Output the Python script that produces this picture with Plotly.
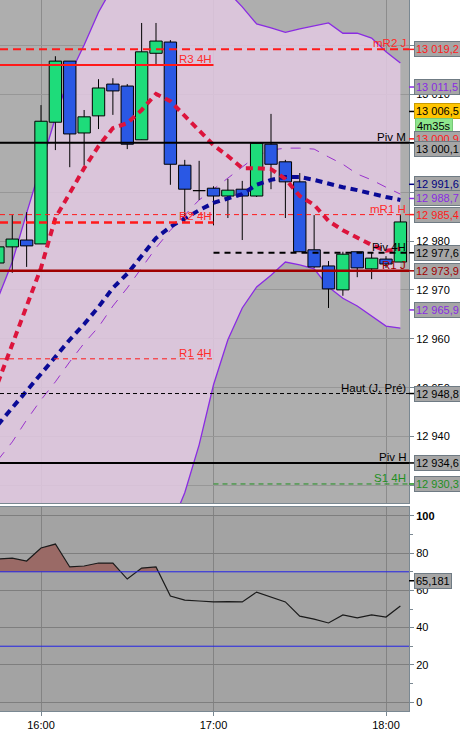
import pandas as pd
import plotly.graph_objects as go

# 5-minute candles, 15:45 -> 18:05
opens = [12975.5, 12978.8, 12980.2, 12979.4, 13004.3, 13016.8, 13002.1, 13005.6, 13012.1, 13011.7,
         13000.7, 13018.4, 13020.7, 12995.5, 12990.4, 12990.8, 12989.2, 12990.6, 12989.2, 12999.8,
         12996.2, 12992.1, 12978.2, 12974.9, 12970.0, 12977.8, 12974.3, 12976.3, 12975.7]
highs = [12979.5, 12985.3, 12985.9, 13007.8, 13017.8, 13016.8, 13006.8, 13013.1, 13013.3, 13012.1,
         13024.6, 13024.6, 13021.1, 12996.6, 12996.4, 12991.2, 12992.7, 12992.3, 13000.0, 13006.0,
         12996.6, 12993.9, 12985.3, 12975.9, 12977.8, 12977.8, 12977.6, 12976.9, 12985.3]
lows = [12974.0, 12973.5, 12974.7, 12979.4, 12998.6, 12995.1, 12995.5, 13002.9, 13005.8, 12998.8,
        13000.7, 13016.0, 12991.5, 12983.9, 12988.4, 12983.2, 12984.7, 12980.2, 12989.0, 12990.6,
        12984.7, 12977.8, 12974.5, 12966.3, 12968.8, 12972.6, 12972.2, 12974.5, 12975.7]
closes = [12978.8, 12980.4, 12979.0, 13004.5, 13016.8, 13001.9, 13005.4, 13011.3, 13010.7, 12999.8,
          13018.7, 13020.9, 12995.7, 12990.6, 12990.3, 12989.2, 12990.4, 12989.2, 13000.0, 12995.7,
          12992.1, 12977.8, 12974.7, 12970.2, 12977.3, 12974.5, 12976.5, 12975.3, 12983.9]

bb_upper = [12968.3, 12975.7, 12985.7, 12995.5, 13005.2, 13014.0, 13020.1, 13026.8, 13032.0, 13036.0,
            13040.0, 13042.0, 13043.0, 13042.0, 13038.5, 13032.0, 13031.0, 13027.9, 13024.4, 13023.6,
            13022.7, 13023.4, 13024.0, 13024.6, 13022.5, 13022.5, 13021.5, 13018.7, 13016.4]
bb_lower = [12902.1, 12902.1, 12901.1, 12899.5, 12897.2, 12896.6, 12898.1, 12898.0, 12901.4, 12904.8,
            12909.0, 12915.2, 12921.4, 12928.5, 12938.3, 12950.6, 12959.8, 12966.3, 12970.6, 12973.0,
            12975.7, 12975.1, 12974.3, 12970.6, 12968.3, 12966.7, 12964.7, 12962.6, 12962.2]
bb_mid = [12935.2, 12938.9, 12943.4, 12947.5, 12951.2, 12955.3, 12959.1, 12962.4, 12966.7, 12970.4,
          12974.5, 12978.6, 12982.2, 12985.3, 12988.4, 12990.6, 12992.9, 12995.1, 12997.4, 12998.6,
          12999.0, 12999.0, 12998.8, 12997.2, 12995.7, 12993.7, 12992.5, 12991.0, 12989.6]
ma_fast = [12951.0, 12959.0, 12966.9, 12974.5, 12984.7, 12989.6, 12994.9, 12999.4, 13003.1, 13004.1,
           13006.8, 13010.1, 13008.6, 13005.6, 13002.7, 12999.6, 12997.4, 12994.9, 12994.9, 12994.7,
           12992.7, 12989.2, 12987.4, 12984.1, 12982.2, 12980.6, 12979.2, 12978.0, 12978.4]
ma_slow = [12942.4, 12945.8, 12949.3, 12952.8, 12956.3, 12959.8, 12963.0, 12966.5, 12970.4, 12973.3,
           12977.1, 12980.6, 12982.9, 12984.7, 12986.3, 12987.8, 12988.8, 12989.6, 12991.5, 12992.5,
           12993.1, 12993.1, 12992.5, 12991.7, 12991.0, 12990.4, 12989.6, 12989.0, 12988.4]
rsi = [76.9, 77.3, 75.8, 82.8, 84.9, 72.6, 73.1, 74.7, 74.7, 66.1, 72.0, 72.6, 57.0, 54.8, 54.3,
       53.8, 54.0, 53.8, 59.1, 56.5, 53.8, 46.2, 44.6, 42.5, 46.8, 45.2, 46.8, 45.7, 51.6]
rsi_high, rsi_low = 70, 30

# pivot levels: name, value, colour, span ("all", "prev" = until 17:00, "cur" = from 17:00)
level_names = ["mR2 J", "R3 4H", "Piv M", "mR1 H", "R2 4H", "Piv 4H", "R1 J", "R1 4H",
               "Haut (J, Pré)", "Piv H", "S1 4H"]
level_values = [13019.2, 13016.0, 13000.1, 12985.4, 12983.8, 12977.6, 12973.9, 12955.9,
                12948.8, 12934.6, 12930.3]
level_colors = ["#ff1a1a", "#ff1a1a", "#000000", "#ff1a1a", "#ff1a1a", "#000000", "#a00000",
                "#ff1a1a", "#000000", "#000000", "#1e8f1e"]
level_spans = ["all", "prev", "all", "all", "prev", "cur", "all", "prev", "all", "all", "cur"]
level_dash = ["8px,5px", "solid", "solid", "5px,4px", "8px,5px", "6px,5px", "solid", "5px,4px",
              "4px,3px", "solid", "5px,4px"]
level_width = [2, 2, 2, 1, 2.5, 2, 2.5, 1, 1, 2, 1]

# right-hand price tags
tag_values = [13019.2, 13011.5, 13006.5, 13000.9, 13000.1, 12991.6, 12988.7, 12985.4,
              12977.6, 12973.9, 12965.9, 12948.8, 12934.6, 12930.3]
tag_colors = ["#ff1a1a", "#8a2be2", "#000000", "#ff1a1a", "#000000", "#000080", "#8a2be2",
              "#ff1a1a", "#000000", "#a00000", "#8a2be2", "#000000", "#000000", "#1e8f1e"]
rsi_tag = 65.181
timer_text = "4m35s"

times = pd.date_range("2024-03-01 15:45", periods=len(opens), freq="5min")
split_time = pd.Timestamp("2024-03-01 17:00")
x_range = [pd.Timestamp("2024-03-01 15:45:44"), pd.Timestamp("2024-03-01 18:08:00")]
half_body = pd.Timedelta(seconds=129)
FONT = "Arial, Liberation Sans, sans-serif"

fig = go.Figure()

# Bollinger band
fig.add_trace(go.Scatter(x=times, y=bb_lower, mode="lines", line=dict(color="#8a2be2", width=1.3),
                         xaxis="x", yaxis="y", hoverinfo="skip"))
fig.add_trace(go.Scatter(x=times, y=bb_upper, mode="lines", line=dict(color="#8a2be2", width=1.3),
                         fill="tonexty", fillcolor="rgba(225,200,225,0.86)",
                         xaxis="x", yaxis="y", hoverinfo="skip"))
fig.add_trace(go.Scatter(x=times, y=bb_mid, mode="lines",
                         line=dict(color="#9932cc", width=1, dash="10px,9px"),
                         xaxis="x", yaxis="y", hoverinfo="skip"))

# wicks
wx, wy = [], []
for t, h, l in zip(times, highs, lows):
    wx += [t, t, None]
    wy += [l, h, None]
fig.add_trace(go.Scatter(x=wx, y=wy, mode="lines", line=dict(color="black", width=1),
                         xaxis="x", yaxis="y", hoverinfo="skip"))

# bodies (drawn as scatter polygons so they sit above the band fill)
up = [c >= o for o, c in zip(opens, closes)]
for is_up, color in [(True, "#1edc7a"), (False, "#2a58e4")]:
    bx, by = [], []
    for t, o, c, u in zip(times, opens, closes, up):
        if u != is_up:
            continue
        lo, hi = min(o, c), max(o, c)
        bx += [t - half_body, t + half_body, t + half_body, t - half_body, t - half_body, None]
        by += [lo, lo, hi, hi, lo, None]
    fig.add_trace(go.Scatter(x=bx, y=by, mode="lines", fill="toself", fillcolor=color,
                             line=dict(color="black", width=1),
                             xaxis="x", yaxis="y", hoverinfo="skip"))

# moving averages
fig.add_trace(go.Scatter(x=times, y=ma_slow, mode="lines",
                         line=dict(color="#0a0a96", width=4, dash="7px,5px"),
                         xaxis="x", yaxis="y", hoverinfo="skip"))
fig.add_trace(go.Scatter(x=times, y=ma_fast, mode="lines",
                         line=dict(color="#dc143c", width=4, dash="7px,5px"),
                         xaxis="x", yaxis="y", hoverinfo="skip"))

# RSI with overbought fill
fx, fy = [], []
for i in range(len(rsi)):
    fx.append(times[i])
    fy.append(max(rsi[i], rsi_high))
    if i < len(rsi) - 1 and (rsi[i] - rsi_high) * (rsi[i + 1] - rsi_high) < 0:
        frac = (rsi_high - rsi[i]) / (rsi[i + 1] - rsi[i])
        fx.append(times[i] + (times[i + 1] - times[i]) * frac)
        fy.append(rsi_high)
fig.add_trace(go.Scatter(x=[times[0], times[-1]], y=[rsi_high, rsi_high], mode="lines",
                         line=dict(width=0), xaxis="x2", yaxis="y2", hoverinfo="skip"))
fig.add_trace(go.Scatter(x=fx, y=fy, mode="lines", line=dict(width=0), fill="tonexty",
                         fillcolor="#9a6a66", xaxis="x2", yaxis="y2", hoverinfo="skip"))
fig.add_trace(go.Scatter(x=times, y=rsi, mode="lines", line=dict(color="#1a1a1a", width=1.2),
                         xaxis="x2", yaxis="y2", hoverinfo="skip"))

shapes = []
annotations = []

# RSI panel background and bounds
shapes.append(dict(type="rect", xref="x2 domain", yref="y2 domain", x0=0, x1=1, y0=0, y1=1,
                   fillcolor="#a3a3a3", line=dict(width=0), layer="below"))
for lv in [rsi_high, rsi_low]:
    shapes.append(dict(type="line", xref="x2 domain", yref="y2", x0=0, x1=1, y0=lv, y1=lv,
                       line=dict(color="#2323e6", width=1)))

# pivot lines and their labels
for name, val, col, span, dash, w in zip(level_names, level_values, level_colors,
                                         level_spans, level_dash, level_width):
    if span == "all":
        shp = dict(xref="x domain", x0=0, x1=1)
        ann = dict(xref="paper", x=1, xshift=-2)
    elif span == "prev":
        shp = dict(xref="x", x0=x_range[0], x1=split_time)
        ann = dict(xref="x", x=split_time, xshift=-1)
    else:
        shp = dict(xref="x", x0=split_time, x1=x_range[1])
        ann = dict(xref="paper", x=1, xshift=-2)
    shapes.append(dict(type="line", yref="y", y0=val, y1=val,
                       line=dict(color=col, width=w, dash=dash), **shp))
    lab_col = "#ff2a2a" if col == "#ff1a1a" else col
    annotations.append(dict(text=name, yref="y", y=val, xanchor="right", yanchor="bottom",
                            showarrow=False, font=dict(family=FONT, size=11.5, color=lab_col),
                            borderpad=0, yshift=-1, **ann))

# price tags on the axis
for val, col in zip(tag_values, tag_colors):
    shift = -6 if val == 13000.1 else 0
    yellow = val == 13006.5
    shapes.append(dict(type="line", xref="paper", yref="y", x0=1, x1=1 + 5 / 409, y0=val, y1=val,
                       line=dict(color=col, width=1.5)))
    annotations.append(dict(text=f"{val:,.1f}".replace(",", " ").replace(".", ","),
                            xref="paper", yref="y", x=1, y=val, xanchor="left", yanchor="middle",
                            xshift=5, yshift=shift, showarrow=False,
                            font=dict(family=FONT, size=11, color=col),
                            bgcolor="#ffc400" if yellow else "#a6a6a6",
                            bordercolor="#c89a00" if yellow else "#6f7b84",
                            borderwidth=1, borderpad=1))
    if yellow:
        annotations.append(dict(text=timer_text, xref="paper", yref="y", x=1, y=val,
                                xanchor="left", yanchor="middle", xshift=6, yshift=-15,
                                showarrow=False, font=dict(family=FONT, size=11, color="black"),
                                bgcolor="#8ee68e", bordercolor="#78c878", borderwidth=1,
                                borderpad=1))

annotations.append(dict(text=f"{rsi_tag:.3f}".replace(".", ","), xref="paper", yref="y2",
                        x=1, y=rsi_tag, xanchor="left", yanchor="middle", xshift=5,
                        showarrow=False, font=dict(family=FONT, size=11, color="black"),
                        bgcolor="#a6a6a6", bordercolor="#6f7b84", borderwidth=1, borderpad=1))
shapes.append(dict(type="line", xref="paper", yref="y2", x0=1, x1=1 + 5 / 409,
                   y0=rsi_tag, y1=rsi_tag, line=dict(color="black", width=1.5)))

price_ticks = list(range(12930, 13031, 10))
axis_line = "#7a8892"

fig.update_layout(
    width=460, height=731,
    margin=dict(l=0, r=51, t=0, b=20),
    paper_bgcolor="white",
    plot_bgcolor="#aeaeae",
    showlegend=False,
    font=dict(family=FONT, size=11, color="black"),
    shapes=shapes,
    annotations=annotations,
    xaxis=dict(domain=[0, 1], anchor="y", matches="x2", type="date", range=x_range,
               showticklabels=False, dtick=3600000, tick0="2024-03-01 16:00",
               showgrid=True, gridcolor="#8c8c8c", gridwidth=1,
               showline=True, linecolor=axis_line, mirror=True, zeroline=False),
    yaxis=dict(domain=[0.2925, 1], anchor="x", side="right", range=[12926.4, 13029.3],
               tickvals=price_ticks, ticktext=[f"{v:,}".replace(",", " ") for v in price_ticks],
               ticks="outside", ticklen=4, tickcolor=axis_line,
               showgrid=True, gridcolor="#979797", gridwidth=1,
               showline=True, linecolor=axis_line, mirror=True, zeroline=False,
               tickfont=dict(family=FONT, size=11, color="black")),
    xaxis2=dict(domain=[0, 1], anchor="y2", type="date", range=x_range,
                dtick=3600000, tick0="2024-03-01 16:00", tickformat="%H:%M",
                ticks="outside", ticklen=4, tickcolor=axis_line,
                showgrid=True, gridcolor="#838383", gridwidth=1,
                showline=True, linecolor=axis_line, mirror=True, zeroline=False,
                tickfont=dict(family=FONT, size=11, color="black")),
    yaxis2=dict(domain=[0, 0.2869], anchor="x2", side="right", range=[-4.8, 104.8],
                tickvals=[0, 20, 40, 60, 80, 100],
                ticktext=["0", "20", "40", "60", "80", "<b>100</b>"],
                ticks="outside", ticklen=4, tickcolor=axis_line,
                minor=dict(tickmode="linear", tick0=0, dtick=10, ticks="outside",
                           ticklen=3, tickcolor=axis_line, showgrid=False),
                showgrid=True, gridcolor="#7e7e7e", gridwidth=1,
                showline=True, linecolor=axis_line, mirror=True, zeroline=False,
                tickfont=dict(family=FONT, size=11, color="black")),
)

fig.write_html("out.html", config={"displayModeBar": False},
               post_script="document.body.style.margin='0px';")
